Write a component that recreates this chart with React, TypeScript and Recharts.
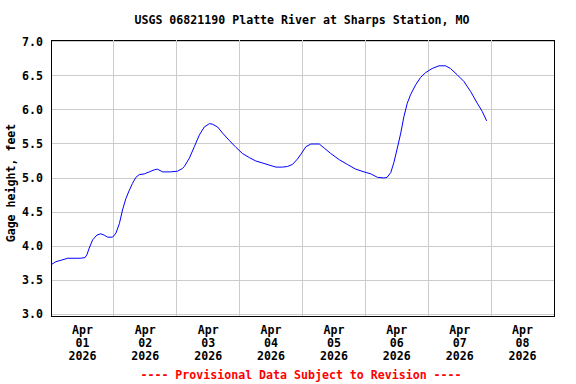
import React from 'react'
import {
  LineChart,
  Line,
  XAxis,
  YAxis,
  CartesianGrid,
  ReferenceLine,
  ReferenceArea
} from 'recharts'

// hours since Apr 01 2026 00:00
const hours = [
  0.25, 1.9, 3.8, 6.4, 11.4, 13.0, 13.7, 14.6, 15.9, 17.5, 19.0, 20.3, 21.6, 23.5,
  24.8, 26.1, 27.3, 28.6, 29.9, 31.1, 32.4, 33.7, 35.6, 37.5, 39.4, 40.6, 42.6,
  45.7, 48.3, 50.2, 50.9, 52.8, 54.7, 56.6, 58.5, 60.5, 61.7, 63.6, 65.5, 68.1,
  70.6, 73.1, 75.7, 78.2, 80.8, 83.3, 85.9, 88.4, 90.3, 92.2, 94.1, 95.4, 97.3,
  99.2, 102.4, 104.3, 106.8, 110.0, 113.1, 116.3, 119.5, 122.1, 124.6, 127.1,
  128.3, 129.7, 130.9, 132.2, 133.5, 134.7, 136.0, 137.3, 139.2, 141.1, 143.0,
  145.5, 148.1, 150.6, 152.5, 155.0, 157.6, 160.2, 162.7, 164.6, 166.3
]

// gage height, feet
const gageFt = [
  3.73, 3.77, 3.79, 3.82, 3.82, 3.83, 3.87, 3.97, 4.09, 4.16, 4.18, 4.16, 4.13, 4.13,
  4.19, 4.33, 4.53, 4.7, 4.82, 4.92, 5.01, 5.05, 5.06, 5.09, 5.12, 5.13, 5.09,
  5.09, 5.1, 5.14, 5.17, 5.29, 5.46, 5.63, 5.75, 5.8, 5.79, 5.75, 5.66, 5.55,
  5.45, 5.36, 5.3, 5.25, 5.22, 5.19, 5.16, 5.16, 5.17, 5.2, 5.28, 5.35, 5.46,
  5.5, 5.5, 5.44, 5.36, 5.27, 5.2, 5.13, 5.09, 5.06, 5.01, 5.0,
  5.01, 5.08, 5.23, 5.44, 5.66, 5.9, 6.1, 6.23, 6.37, 6.48, 6.55,
  6.61, 6.65, 6.65, 6.61, 6.52, 6.42, 6.27, 6.1, 5.98, 5.84
]

const dayLabels = ['01', '02', '03', '04', '05', '06', '07', '08']
const monthLabel = 'Apr'
const yearLabel = '2026'
const yTicks = [3.0, 3.5, 4.0, 4.5, 5.0, 5.5, 6.0, 6.5, 7.0]

const data = hours.map((h, i) => ({ h, v: gageFt[i] }))
const labelTicks = dayLabels.map((_, i) => i * 24 + 12)
const midnights = dayLabels.slice(1).map((_, i) => (i + 1) * 24)

const FONT = '"DejaVu Sans Mono", monospace'

function DayTick(props: any) {
  const { x, y, payload } = props
  const idx = Math.round((payload.value - 12) / 24)
  return (
    <text
      x={x}
      y={y}
      textAnchor="middle"
      fontFamily={FONT}
      fontWeight="bold"
      fontSize={11.6}
      fill="#000"
    >
      <tspan x={x} dy={10}>{monthLabel}</tspan>
      <tspan x={x} dy={13}>{dayLabels[idx]}</tspan>
      <tspan x={x} dy={13}>{yearLabel}</tspan>
    </text>
  )
}

export default function App() {
  return (
    <div style={{ position: 'absolute', left: 0, top: 0, width: 576, height: 384, background: '#fff' }}>
      <LineChart
        width={576}
        height={384}
        data={data}
        margin={{ top: 40, right: 22, bottom: 16, left: 0 }}
      >
        <CartesianGrid vertical={false} stroke="#cccccc" shapeRendering="crispEdges" />
        {midnights.map((m) => (
          <ReferenceLine key={m} x={m} stroke="#cccccc" strokeWidth={1} shapeRendering="crispEdges" />
        ))}
        <XAxis
          dataKey="h"
          type="number"
          domain={[0, 192]}
          ticks={labelTicks}
          allowDataOverflow
          axisLine={false}
          tickLine={false}
          height={52}
          interval={0}
          tick={<DayTick />}
        />
        <YAxis
          type="number"
          domain={[2.9706, 7.0294]}
          ticks={yTicks}
          allowDataOverflow
          width={51}
          axisLine={false}
          tickLine={false}
          interval={0}
          tickFormatter={(v: number) => v.toFixed(1)}
          tick={{ fontFamily: FONT, fontWeight: 'bold', fontSize: 11.6, fill: '#000' }}
        />
        <ReferenceArea
          x1={0}
          x2={192}
          y1={2.9706}
          y2={7.0294}
          fill="none"
          fillOpacity={0}
          stroke="#000"
          strokeWidth={1}
          shapeRendering="crispEdges"
        />
        <Line
          type="linear"
          dataKey="v"
          stroke="#0000ff"
          strokeWidth={1}
          dot={false}
          isAnimationActive={false}
        />
      </LineChart>
      <svg
        width={576}
        height={384}
        style={{ position: 'absolute', left: 0, top: 0, pointerEvents: 'none' }}
      >
        <text x={302} y={24} textAnchor="middle" fontFamily={FONT} fontWeight="bold" fontSize={11.6} fill="#000">
          USGS 06821190 Platte River at Sharps Station, MO
        </text>
        <text
          transform="translate(15,183) rotate(-90)"
          textAnchor="middle"
          fontFamily={FONT}
          fontWeight="bold"
          fontSize={11.6}
          fill="#000"
        >
          Gage height, feet
        </text>
        <text x={301} y={378.5} textAnchor="middle" fontFamily={FONT} fontWeight="bold" fontSize={11.6} fill="#ff0000">
          ---- Provisional Data Subject to Revision ----
        </text>
      </svg>
    </div>
  )
}
